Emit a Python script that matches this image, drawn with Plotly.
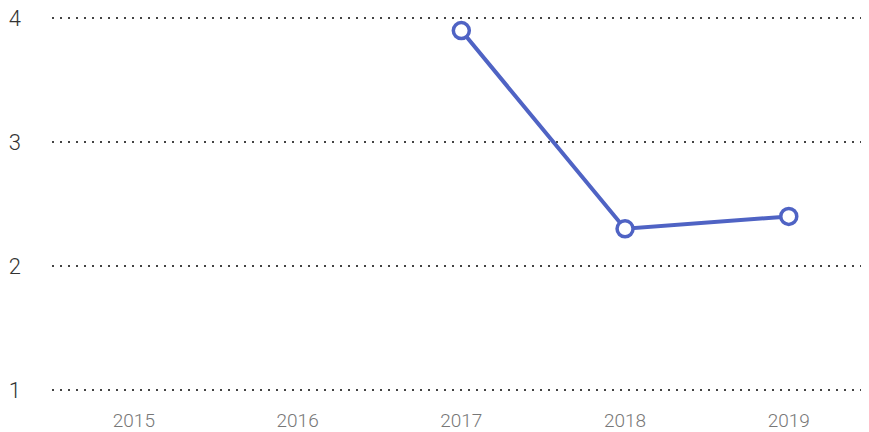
import plotly.graph_objects as go

years = ["2015", "2016", "2017", "2018", "2019"]
values = [None, None, 3.9, 2.3, 2.4]
y_ticks = [1, 2, 3, 4]

fig = go.Figure()
fig.add_trace(go.Scatter(
    x=years, y=values, mode="lines+markers",
    line=dict(color="#4f63c4", width=4),
    marker=dict(symbol="circle", size=16, color="white",
                line=dict(color="#4f63c4", width=3.5)),
    connectgaps=False, showlegend=False, cliponaxis=False,
))

fig.update_layout(
    width=861, height=424,
    margin=dict(l=44, r=0, t=4, b=36),
    paper_bgcolor="white", plot_bgcolor="white",
    font=dict(family="Roboto", weight=300),
    xaxis=dict(
        type="category", categoryorder="array", categoryarray=years,
        range=[-0.5, 4.49], showgrid=False, zeroline=False, showline=False,
        ticks="", tickfont=dict(size=19, color="#777777", family="Roboto", weight=300),
        ticklabelstandoff=11, automargin=False, ticklabeloverflow="allow",
    ),
    yaxis=dict(
        range=[0.95, 4.05], tickvals=y_ticks, ticktext=[str(v) for v in y_ticks],
        showgrid=True, gridcolor="#444444", gridwidth=2, griddash="2px,6px",
        zeroline=False, showline=False, ticks="",
        tickfont=dict(size=22, color="#333333", family="Roboto", weight=300),
        ticklabelstandoff=30, automargin=False, ticklabeloverflow="allow",
    ),
)

fig.write_html("out.html")
